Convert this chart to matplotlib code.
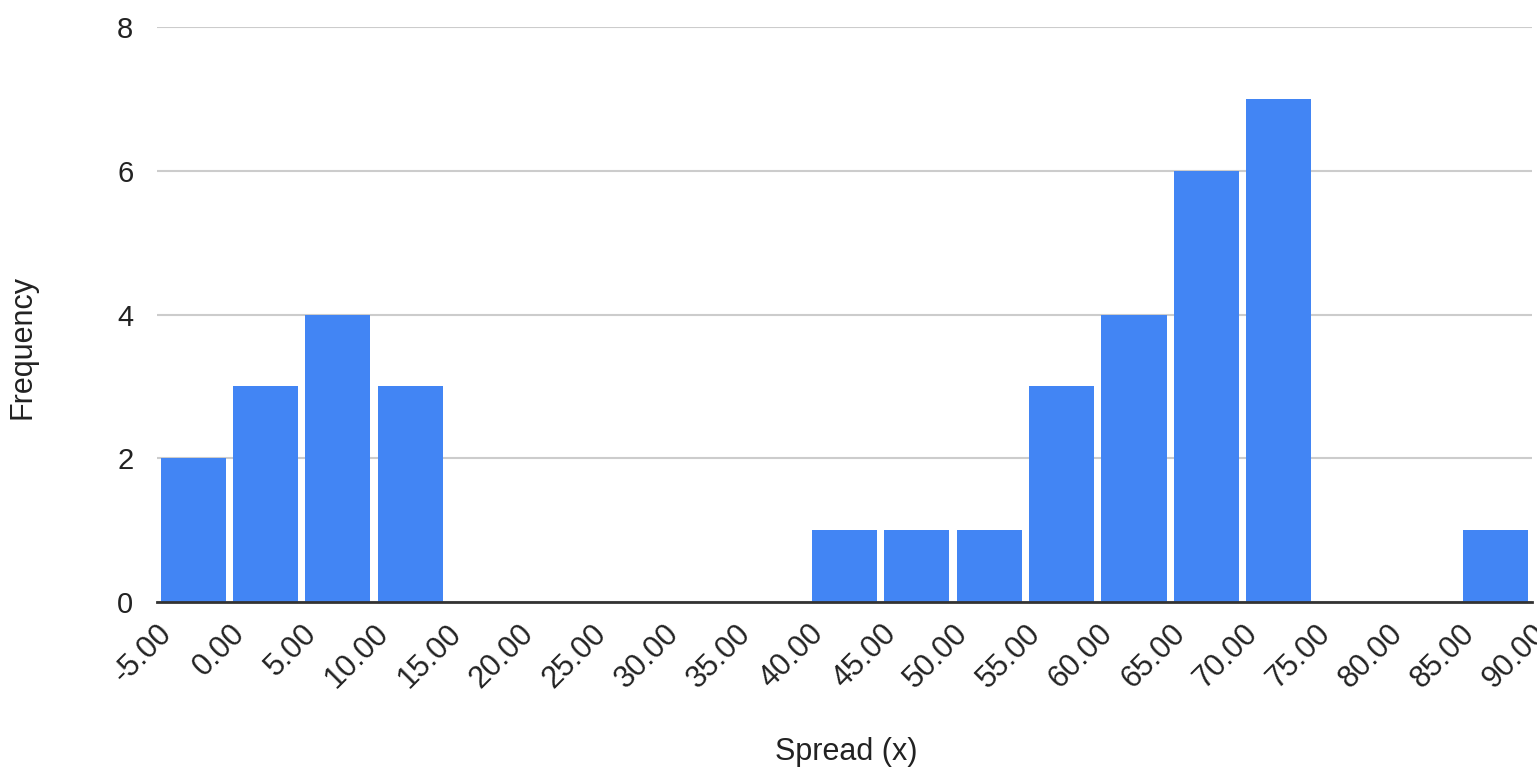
import numpy as np
import matplotlib.pyplot as plt

# границы интервалов и частоты
bin_edges = [-5, 0, 5, 10, 15, 20, 25, 30, 35, 40, 45, 50, 55, 60, 65, 70, 75, 80, 85, 90]
counts = [2, 3, 4, 3, 0, 0, 0, 0, 0, 1, 1, 1, 3, 4, 6, 7, 0, 0, 1]
tick_labels = ['%.2f' % v for v in bin_edges]
y_ticks = [0, 2, 4, 6, 8]

plt.rcParams['font.family'] = ['Liberation Sans', 'DejaVu Sans']

fig = plt.figure(figsize=(15.37, 7.72), dpi=100)
ax = fig.add_axes([157 / 1537, 1 - 602 / 772, 1375 / 1537, 575 / 772])

edges = np.array(bin_edges, dtype=float)
width = edges[1] - edges[0]
centers = edges[:-1] + width / 2
ax.bar(centers, counts, width=width * 0.9, color='#4285F4', zorder=3)

ax.set_xlim(edges[0], edges[-1])
ax.set_ylim(0, 8)
ax.set_yticks(y_ticks)
ax.set_yticklabels([str(v) for v in y_ticks], fontsize=21, color='#222222')
ax.set_xticks(edges)
ax.set_xticklabels(tick_labels, rotation=45, ha='right', va='top',
                   rotation_mode='anchor', fontsize=22, color='#222222')
ax.tick_params(axis='both', length=0)
ax.tick_params(axis='y', pad=17)
ax.tick_params(axis='x', pad=12)

ax.grid(axis='y', color='#cccccc', linewidth=1.5, zorder=0)
for s in ['top', 'right', 'left']:
    ax.spines[s].set_visible(False)
ax.spines['bottom'].set_color('#333333')
ax.spines['bottom'].set_linewidth(2)
ax.spines['bottom'].set_zorder(4)

fig.text(846 / 1537, 1 - 752 / 772, 'Spread (x)', ha='center', va='center',
         fontsize=22, color='#222222')
fig.text(22 / 1537, 1 - 347 / 772, 'Frequency', ha='center', va='center',
         rotation=90, fontsize=22, color='#222222')

fig.savefig('out.png', dpi=100)
